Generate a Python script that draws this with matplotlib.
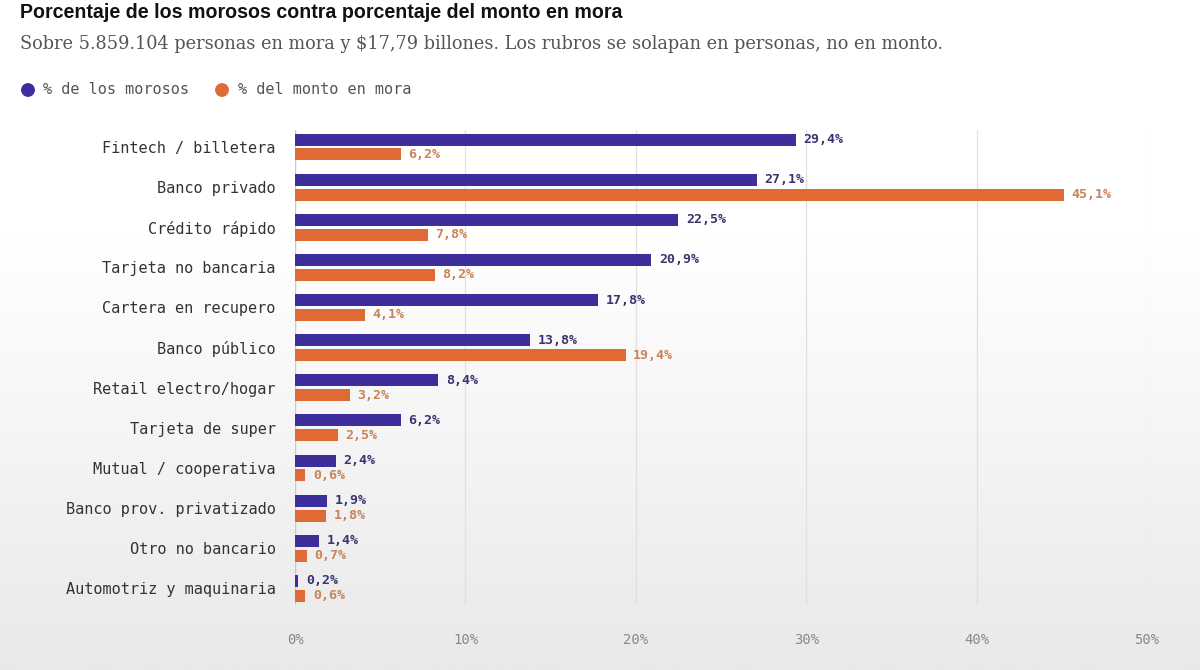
import matplotlib.pyplot as plt
import numpy as np
from matplotlib.colors import LinearSegmentedColormap

categorias = ['Fintech / billetera', 'Banco privado', 'Crédito rápido', 'Tarjeta no bancaria',
              'Cartera en recupero', 'Banco público', 'Retail electro/hogar', 'Tarjeta de super',
              'Mutual / cooperativa', 'Banco prov. privatizado', 'Otro no bancario',
              'Automotriz y maquinaria']
pct_morosos = [29.4, 27.1, 22.5, 20.9, 17.8, 13.8, 8.4, 6.2, 2.4, 1.9, 1.4, 0.2]
pct_monto = [6.2, 45.1, 7.8, 8.2, 4.1, 19.4, 3.2, 2.5, 0.6, 1.8, 0.7, 0.6]
ticks = [0, 10, 20, 30, 40, 50]

violeta = '#3d2e9c'
naranja = '#e06a36'
mono = 'DejaVu Sans Mono'

fig = plt.figure(figsize=(12, 6.7), dpi=100)

# fondo degradado blanco -> gris
bg = fig.add_axes([0, 0, 1, 1], zorder=-10)
grad = np.linspace(0, 1, 256).reshape(-1, 1)
grad = np.clip((grad - 0.35) / 0.65, 0, 1)
bg.imshow(grad, aspect='auto', cmap=LinearSegmentedColormap.from_list('g', ['#ffffff', '#e9e9e9']),
          extent=[0, 1, 0, 1], origin='upper')
bg.axis('off')

ax = fig.add_axes([295 / 1200, 1 - 605 / 670, 852 / 1200, 475 / 670])
ax.patch.set_alpha(0)

y = np.arange(len(categorias))
h = 0.3
ax.barh(y - 0.18, pct_morosos, height=h, color=violeta, zorder=3)
ax.barh(y + 0.19, pct_monto, height=h, color=naranja, zorder=3)

for i in range(len(categorias)):
    ax.text(pct_morosos[i] + 0.45, y[i] - 0.18, f'{pct_morosos[i]:.1f}%'.replace('.', ','),
            va='center', ha='left', fontsize=9.5, fontweight='bold', color='#3b3370', family=mono)
    ax.text(pct_monto[i] + 0.45, y[i] + 0.19, f'{pct_monto[i]:.1f}%'.replace('.', ','),
            va='center', ha='left', fontsize=9.5, fontweight='bold', color='#c9825a', family=mono)

ax.set_xlim(0, 50)
ax.set_ylim(11.42, -0.42)
ax.set_yticks(y)
ax.set_yticklabels(categorias, family=mono, fontsize=11, color='#333333')
ax.set_xticks(ticks)
ax.set_xticklabels([f'{t}%' for t in ticks], family=mono, fontsize=10, color='#888888')
ax.tick_params(axis='y', length=0, pad=14)
ax.tick_params(axis='x', length=0, pad=20)
ax.grid(axis='x', color='#e0e0e0', linewidth=0.9, zorder=0)
for s in ax.spines.values():
    s.set_visible(False)
ax.axvline(0, color='#c8c8d0', linewidth=1, zorder=2)

fig.text(20 / 1200, 1 - 12 / 670, 'Porcentaje de los morosos contra porcentaje del monto en mora',
         fontsize=14.1, fontweight='bold', color='#111111', family='Liberation Sans', va='center')
fig.text(20 / 1200, 1 - 44 / 670,
         'Sobre 5.859.104 personas en mora y $17,79 billones. Los rubros se solapan en personas, no en monto.',
         fontsize=12.8, color='#555555', family='DejaVu Serif', va='center')

leg = fig.add_axes([0, 0, 1, 1], zorder=5)
leg.axis('off')
leg.set_xlim(0, 1200)
leg.set_ylim(670, 0)
leg.scatter([28, 222], [90, 90], s=80, color=[violeta, naranja])
leg.text(43, 90, '% de los morosos', fontsize=11, family=mono, color='#555555', va='center')
leg.text(238, 90, '% del monto en mora', fontsize=11, family=mono, color='#555555', va='center')

fig.savefig('out.png', dpi=100)
